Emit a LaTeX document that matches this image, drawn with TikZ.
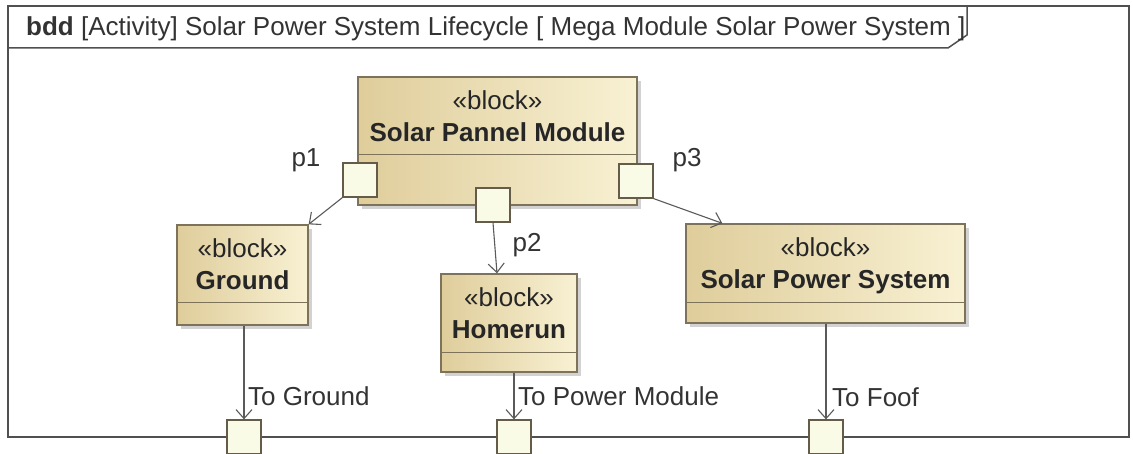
\documentclass[tikz,border=0pt]{standalone}
\usepackage{fontspec}
\setmainfont{Liberation Sans}
\usepackage{xcolor}
\usepackage{tikz}
\usetikzlibrary{arrows.meta,positioning,calc,shadows}
\definecolor{blocktan}{HTML}{DFCD9B}
\definecolor{blockcream}{HTML}{F8F1D3}
\definecolor{blockline}{HTML}{7D735A}
\definecolor{portfill}{HTML}{FAFBE6}
\definecolor{frameline}{HTML}{505050}
\definecolor{linkgray}{HTML}{5A5A5A}

\begin{document}
\begin{tikzpicture}[x=1pt,y=1pt,>={Straight Barb[length=9pt,width=16pt]}]
\tikzstyle{blockbox}=[draw=blockline,line width=1.3pt,left color=blocktan,right color=blockcream,drop shadow={shadow xshift=4pt,shadow yshift=-4pt,fill=black!35},inner sep=0pt]
\tikzstyle{blocktext}=[align=center,inner sep=0pt,anchor=north,text=black!85,font=\fontsize{26}{32}\selectfont]
\tikzstyle{port}=[draw=blockline!80!black,line width=1.2pt,fill=portfill,minimum size=34pt,inner sep=0pt]
\tikzstyle{portlabel}=[inner sep=0pt,text=black!80,font=\fontsize{26}{30}\selectfont]
\tikzstyle{link}=[draw=linkgray,line width=1.1pt,->]
\tikzstyle{divider}=[draw=blockline,line width=1.3pt]

\useasboundingbox (0,0) rectangle (1133,454);
\fill[white] (0,0) rectangle (1133,454);

% diagram frame and header tab
\draw[frameline,line width=1.5pt] (8,17) rectangle (1129,448);
\draw[frameline,line width=1.5pt] (8,406) -- (948,406) -- (967,419) -- (967,448);
\node[anchor=base west,inner sep=0pt,text=black!80,font=\fontsize{26}{30}\selectfont] (title) at (26,418) {\textbf{bdd} [Activity] Solar Power System Lifecycle [ Mega Module Solar Power System ]};

% blocks
\node[blockbox,minimum width=279pt,minimum height=128pt] (panel) at (497.5,313) {};
\node[blocktext] (panel-text) at ([yshift=-14pt]panel.north) {«block»\\\textbf{Solar Pannel Module}};
\draw[divider] ([yshift=51pt]panel.south west) -- ([yshift=51pt]panel.south east);

\node[blockbox,minimum width=131pt,minimum height=100pt] (ground) at (242.5,179) {};
\node[blocktext] (ground-text) at ([yshift=-14pt]ground.north) {«block»\\\textbf{Ground}};
\draw[divider] ([yshift=23pt]ground.south west) -- ([yshift=23pt]ground.south east);

\node[blockbox,minimum width=136pt,minimum height=98pt] (homerun) at (509,131) {};
\node[blocktext] (homerun-text) at ([yshift=-14pt]homerun.north) {«block»\\\textbf{Homerun}};
\draw[divider] ([yshift=20pt]homerun.south west) -- ([yshift=20pt]homerun.south east);

\node[blockbox,minimum width=279pt,minimum height=99pt] (sps) at (825.5,180.5) {};
\node[blocktext] (sps-text) at ([yshift=-14pt]sps.north) {«block»\\\textbf{Solar Power System}};
\draw[divider] ([yshift=21pt]sps.south west) -- ([yshift=21pt]sps.south east);

% ports
\node[port] (p1) at (360,274) {};
\node[port] (p2) at (493,249) {};
\node[port] (p3) at (636,273) {};
\node[port] (gport) at (244,17) {};
\node[port] (hport) at (514,17) {};
\node[port] (fport) at (826,17) {};

% connectors
\draw[link] (p1.south west) -- (ground.north east);
\draw[link] (p2.south) -- ([xshift=-12pt]homerun.north);
\draw[link] (p3.south east) -- ([xshift=37pt]sps.north west);
\draw[link] (gport.north |- ground.south) -- (gport.north);
\draw[link] (hport.north |- homerun.south) -- (hport.north);
\draw[link] (fport.north |- sps.south) -- (fport.north);

% port labels
\node[portlabel] (p1-label) at ($(p1)+(-54,20)$) {p1};
\node[portlabel] (p2-label) at ($(p2)+(34,-40)$) {p2};
\node[portlabel] (p3-label) at ($(p3)+(51,21)$) {p3};
\node[portlabel,anchor=west] (gport-label) at ($(gport.north)+(4,23)$) {To Ground};
\node[portlabel,anchor=west] (hport-label) at ($(hport.north)+(4,23)$) {To Power Module};
\node[portlabel,anchor=west] (fport-label) at ($(fport.north)+(6,22)$) {To Foof};
\end{tikzpicture}
\end{document}
